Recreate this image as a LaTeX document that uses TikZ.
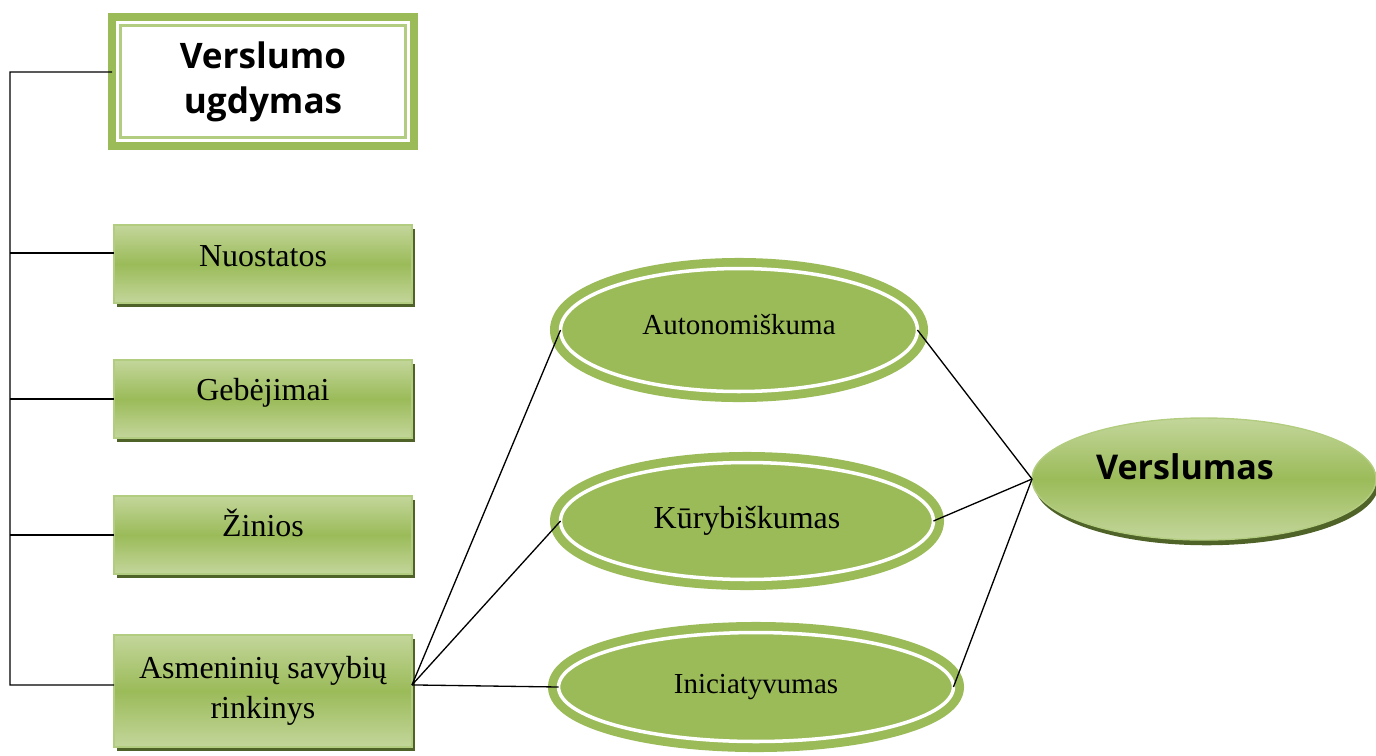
\documentclass[tikz,border=0pt]{standalone}
\usepackage{fontspec}
\setmainfont{Liberation Serif}
\newfontfamily\headfont{Open Sans}
\usetikzlibrary{positioning,shapes.geometric,shadows}
\definecolor{leaf}{HTML}{9BBB59}
\definecolor{leaflight}{HTML}{C3D69B}
\definecolor{leafedge}{HTML}{B3CD80}
\definecolor{leafdark}{HTML}{4F6228}
\begin{document}
\begin{tikzpicture}[x=0.02cm, y=-0.02cm,
    frame/.style = {draw=leaf, line width=4.5pt, fill=white, minimum width=6.04cm, minimum height=2.58cm, inner sep=0pt, outer sep=0pt, align=center, font=\headfont\bfseries\fontsize{20}{28}\selectfont},
    box/.style = {draw=leafedge, line width=1pt, top color=leaflight, bottom color=leaflight, middle color=leaf, drop shadow={shadow xshift=1.5pt, shadow yshift=-2.5pt, fill=leafdark, opacity=1}, minimum width=5.96cm, minimum height=1.56cm, inner sep=0pt, outer sep=0pt, align=center, text height=0.57cm, text depth=0.49cm, font=\fontsize{18.2}{22.8}\selectfont},
    oval/.style = {ellipse, fill=leaf, draw=leaf, line width=5pt, double=white, double distance=2pt, inner sep=0pt, outer sep=0pt, font=\fontsize{16.5}{20}\selectfont},
    goal/.style = {ellipse, draw=leafedge, line width=0.8pt, top color=leaflight, bottom color=leaflight, middle color=leaf, drop shadow={shadow xshift=1.5pt, shadow yshift=-3pt, fill=leafdark, opacity=1}, minimum width=6.88cm, minimum height=2.44cm, inner sep=0pt, outer sep=0pt},
    link/.style = {line width=0.75pt}]
    \useasboundingbox (0,0) rectangle (1376,755);
    \node[frame] (1) at (263,81.5) {\raisebox{-0.08cm}{Verslumo}\\ugdymas};
    \draw[leafedge, line width=1.2pt] ([shift={(8.5,8.5)}]1.north west) rectangle ([shift={(-8.5,-8.5)}]1.south east);
    \node[box] (2) at (263,264) {Nuostatos};
    \node[box] (3) [below=1.14cm of 2] {Gebėjimai};
    \node[box] (4) [below=1.16cm of 3] {Žinios};
    \node[box, minimum height=2.24cm, text height=, text depth=] (5) [below=1.22cm of 4] {Asmeninių savybių\\rinkinys};
    \node[oval, minimum width=7.14cm, minimum height=2.46cm] (6) at (739,330) {\raisebox{0.24cm}{Autonomiškuma}};
    \node[oval, minimum width=7.46cm, minimum height=2.34cm, font=\fontsize{18.2}{20}\selectfont] (7) at (747,521) {Kūrybiškumas};
    \node[oval, minimum width=7.9cm, minimum height=2.18cm] (8) at (756,687) {Iniciatyvumas};
    \node[goal, label={[xshift=-0.38cm, yshift=0.24cm, font=\headfont\bfseries\fontsize{19.4}{24}\selectfont]center:Verslumas}] (9) at (1204,479) {};
    \coordinate (a) at (10,72);
    \coordinate (b) at ([yshift=0.12cm]5.east);
    \draw[link] ([yshift=0.19cm]1.west) -- (a) |- ([yshift=0.12cm]5.west);
    \draw[link] ([yshift=0.22cm]2.west) coordinate (c) -- (c -| a);
    \draw[link] (3.west) -- (3.west -| a);
    \draw[link] (4.west) -- (4.west -| a);
    \draw[link] (b) -- (6.west);
    \draw[link] (b) -- (7.west);
    \draw[link] (b) -- (8.west);
    \draw[link] (6.east) -- (9.west);
    \draw[link] (7.east) -- (9.west);
    \draw[link] (8.east) -- (9.west);
\end{tikzpicture}
\end{document}
